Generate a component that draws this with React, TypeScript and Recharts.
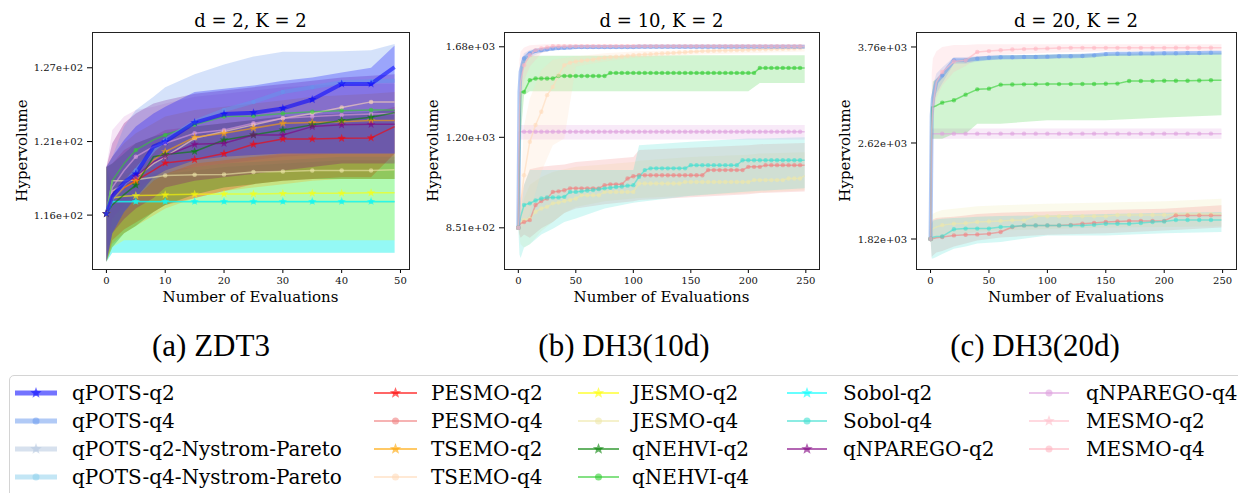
import React from "react";
import { Area, ComposedChart, Line, XAxis, YAxis } from "recharts";

const SERIF = "'DejaVu Serif', 'Liberation Serif', 'Noto Serif', 'Times New Roman', Times, serif";
const CAPTION_SERIF = "'Liberation Serif', 'Times New Roman', Times, 'DejaVu Serif', 'Noto Serif', serif";

// ---------- (a) ZDT3, d = 2 ----------
const zdtX = [0, 1, 3, 5, 8, 10, 15, 20, 25, 30, 35, 40, 45, 49];
const zdtQpotsQ2 = [116.0, 117.24, 118.23, 118.85, 120.84, 121.21, 122.63, 123.27, 123.37, 123.7, 124.37, 125.56, 125.56, 126.85];
const zdtQpotsQ4 = [116.0, 117.12, 118.11, 119.1, 120.59, 121.34, 122.7, 123.57, 124.19, 124.94, 125.31, 125.68, 125.76, 125.81];
const zdtPesmoQ2 = [116.0, 117.24, 117.86, 118.36, 119.1, 119.65, 119.9, 120.34, 121.02, 121.41, 121.41, 121.46, 121.49, 122.33];
const zdtTsemoQ2 = [116.0, 116.99, 117.86, 118.31, 119.85, 120.47, 121.54, 121.83, 122.21, 122.58, 122.63, 122.7, 122.78, 122.78];
const zdtTsemoQ4 = [116.0, 117.61, 118.11, 118.61, 119.6, 120.1, 121.46, 121.96, 122.46, 122.95, 123.32, 123.77, 124.19, 124.19];
const zdtJesmoQ2 = [116.0, 117.12, 117.24, 117.29, 117.32, 117.34, 117.39, 117.41, 117.41, 117.44, 117.46, 117.46, 117.49, 117.49];
const zdtJesmoQ4 = [116.0, 118.36, 118.36, 118.43, 118.61, 118.73, 118.78, 118.81, 118.98, 119.03, 119.1, 119.1, 119.1, 119.15];
const zdtNehviQ2 = [116.0, 116.62, 117.36, 118.04, 120.1, 120.27, 120.49, 121.34, 121.71, 122.08, 122.46, 122.78, 123.03, 123.37];
const zdtNehviQ4 = [116.0, 118.36, 119.6, 120.59, 121.34, 121.71, 122.46, 123.08, 123.13, 123.32, 123.45, 123.52, 123.57, 123.57];
const zdtSobolQ2 = [116.0, 116.87, 116.87, 116.87, 116.87, 116.87, 116.87, 116.87, 116.87, 116.87, 116.87, 116.87, 116.87, 116.87];
const zdtSobolQ4 = [116.0, 116.85, 116.85, 116.85, 116.85, 116.85, 116.85, 116.85, 116.85, 116.85, 116.85, 116.85, 116.85, 116.85];
const zdtNparegoQ2 = [116.0, 117.36, 118.11, 118.66, 119.72, 120.15, 121.02, 121.09, 121.71, 121.71, 122.33, 122.46, 122.5, 122.5];
const zdtNparegoQ4 = [116.0, 117.86, 119.1, 120.1, 120.84, 121.09, 121.83, 122.08, 122.58, 122.95, 123.08, 123.2, 123.27, 123.32];

const zdtQpotsQ2Hi = [119.35, 120.1, 121.34, 122.33, 123.32, 123.82, 124.94, 125.19, 125.43, 125.81, 126.06, 126.43, 126.8, 128.54];
const zdtQpotsQ2Lo = [112.65, 114.63, 116.12, 117.12, 118.61, 119.1, 119.85, 120.1, 120.22, 120.34, 120.34, 120.34, 120.34, 120.34];
const zdtQpotsQ4Hi = [119.35, 120.1, 122.33, 123.57, 124.57, 125.31, 126.3, 127.05, 127.67, 128.04, 128.04, 128.09, 128.17, 128.66];
const zdtQpotsQ4Lo = [112.65, 114.63, 116.12, 117.12, 118.36, 118.85, 119.6, 119.85, 120.1, 120.34, 120.34, 120.34, 120.34, 120.34];
const zdtPesmoQ2Hi = [119.35, 119.6, 120.59, 121.09, 121.59, 122.08, 122.33, 122.58, 122.83, 123.08, 123.2, 123.32, 123.32, 123.82];
const zdtPesmoQ2Lo = [112.65, 114.14, 114.88, 115.38, 116.12, 116.62, 117.12, 117.61, 118.11, 118.36, 118.48, 118.61, 118.61, 120.34];
const zdtNparegoQ2Hi = [119.35, 121.09, 122.58, 123.32, 124.07, 124.32, 124.81, 125.06, 125.31, 125.56, 125.81, 126.06, 126.18, 126.3];
const zdtNparegoQ2Lo = [112.65, 114.63, 115.63, 116.37, 117.12, 117.86, 118.36, 118.61, 118.85, 119.1, 119.35, 119.6, 119.6, 119.6];
const zdtNparegoQ4Hi = [119.35, 122.08, 123.08, 123.57, 123.82, 124.07, 124.57, 124.81, 125.06, 125.31, 125.43, 125.56, 125.56, 125.56];
const zdtNparegoQ4Lo = [112.65, 115.63, 116.62, 117.61, 118.61, 118.85, 119.35, 119.6, 119.85, 120.1, 120.22, 120.34, 120.34, 120.34];
const zdtNehviQ2Hi = [119.35, 119.6, 120.34, 121.09, 121.59, 121.83, 122.33, 122.58, 122.83, 123.08, 123.2, 123.32, 123.45, 123.57];
const zdtNehviQ2Lo = [112.65, 113.64, 114.63, 115.13, 116.12, 116.62, 117.36, 117.86, 118.11, 118.36, 118.48, 118.48, 118.48, 118.48];
const zdtTsemoQ2Hi = [119.35, 120.1, 121.09, 121.83, 122.58, 123.08, 123.57, 123.82, 124.07, 124.32, 124.57, 124.69, 124.81, 124.94];
const zdtTsemoQ2Lo = [112.65, 113.89, 114.63, 115.13, 115.88, 116.37, 117.12, 117.61, 117.86, 118.11, 118.36, 118.48, 118.48, 118.48];
const zdtJesmoQ2Hi = [119.35, 118.61, 118.85, 119.1, 119.35, 119.6, 119.85, 119.97, 120.1, 120.22, 120.29, 120.34, 120.34, 120.34];
const zdtJesmoQ2Lo = [112.65, 113.64, 114.14, 114.14, 114.14, 114.14, 114.14, 114.14, 114.14, 114.14, 114.14, 114.14, 114.14, 114.14];
const zdtSobolQ2Hi = [119.35, 117.86, 118.36, 118.61, 118.85, 119.1, 119.35, 119.6, 119.72, 119.85, 119.97, 120.1, 120.1, 120.1];
const zdtSobolQ2Lo = [112.65, 113.27, 113.27, 113.27, 113.27, 113.27, 113.27, 113.27, 113.27, 113.27, 113.27, 113.27, 113.27, 113.27];
const zdtSobolQ4Hi = [119.35, 117.61, 118.11, 118.36, 118.61, 118.85, 119.1, 119.35, 119.48, 119.6, 119.72, 119.85, 119.85, 119.85];
const zdtSobolQ4Lo = [112.65, 113.27, 113.27, 113.27, 113.27, 113.27, 113.27, 113.27, 113.27, 113.27, 113.27, 113.27, 113.27, 113.27];

// ---------- (b) DH3, d = 10 ----------
const dh10X = [0, 1, 2, 5, 10, 15, 20, 25, 30, 35, 40, 45, 50, 55, 60, 65, 70, 75, 80, 85, 90, 95, 100, 105, 110, 115, 120, 125, 130, 135, 140, 145, 150, 155, 160, 165, 170, 175, 180, 185, 190, 195, 200, 205, 210, 215, 220, 225, 230, 235, 240, 245, 249];
const dh10QpotsQ4 = [851, 1418, 1529, 1608, 1638, 1655, 1659, 1664, 1669, 1672, 1674, 1676, 1678, 1678, 1678, 1678, 1678, 1678, 1678, 1678, 1678, 1678, 1678, 1680, 1680, 1680, 1680, 1680, 1680, 1680, 1680, 1680, 1680, 1680, 1680, 1680, 1680, 1680, 1680, 1680, 1680, 1680, 1680, 1680, 1680, 1680, 1680, 1680, 1680, 1680, 1680, 1680, 1680];
const dh10MesmoQ4 = [851, 1299, 1473, 1568, 1628, 1659, 1669, 1676, 1683, 1683, 1683, 1683, 1683, 1683, 1683, 1683, 1683, 1683, 1683, 1683, 1683, 1683, 1683, 1683, 1683, 1683, 1683, 1683, 1683, 1683, 1683, 1683, 1683, 1683, 1683, 1683, 1683, 1683, 1683, 1683, 1683, 1683, 1683, 1683, 1683, 1683, 1683, 1683, 1683, 1683, 1683, 1683, 1683];
const dh10TsemoQ4 = [851, 881, 927, 1037, 1176, 1252, 1316, 1401, 1445, 1510, 1568, 1582, 1590, 1594, 1598, 1602, 1608, 1612, 1616, 1618, 1620, 1624, 1628, 1630, 1632, 1634, 1636, 1638, 1640, 1642, 1644, 1646, 1649, 1651, 1653, 1654, 1655, 1656, 1657, 1658, 1659, 1660, 1661, 1663, 1664, 1665, 1666, 1667, 1668, 1669, 1670, 1672, 1673];
const dh10NehviQ4 = [851, 1104, 1418, 1418, 1482, 1491, 1491, 1491, 1491, 1505, 1505, 1505, 1505, 1505, 1505, 1505, 1505, 1505, 1523, 1523, 1523, 1523, 1523, 1523, 1523, 1523, 1523, 1523, 1523, 1523, 1523, 1523, 1523, 1523, 1523, 1523, 1523, 1523, 1523, 1523, 1523, 1523, 1523, 1523, 1552, 1552, 1552, 1552, 1552, 1552, 1552, 1552, 1552];
const dh10NparegoQ4 = [851, 1221, 1221, 1221, 1221, 1221, 1221, 1221, 1221, 1221, 1221, 1221, 1221, 1221, 1221, 1221, 1221, 1221, 1221, 1221, 1221, 1221, 1221, 1221, 1221, 1221, 1221, 1221, 1221, 1221, 1221, 1221, 1221, 1221, 1221, 1221, 1221, 1221, 1221, 1221, 1221, 1221, 1221, 1221, 1221, 1221, 1221, 1221, 1221, 1221, 1221, 1221, 1221];
const dh10SobolQ4 = [851, 870, 887, 927, 933, 943, 950, 954, 954, 954, 956, 974, 974, 976, 979, 981, 984, 987, 989, 992, 994, 997, 999, 1031, 1057, 1064, 1064, 1064, 1064, 1064, 1064, 1064, 1077, 1077, 1077, 1077, 1077, 1077, 1077, 1077, 1077, 1097, 1097, 1097, 1097, 1097, 1097, 1097, 1097, 1097, 1097, 1097, 1097];
const dh10PesmoQ4 = [851, 860, 865, 870, 876, 927, 941, 950, 974, 976, 980, 987, 987, 987, 987, 987, 987, 999, 1002, 1002, 1002, 1024, 1033, 1037, 1037, 1037, 1037, 1037, 1037, 1037, 1037, 1037, 1037, 1037, 1037, 1057, 1057, 1057, 1057, 1057, 1057, 1057, 1070, 1070, 1070, 1077, 1077, 1077, 1077, 1077, 1077, 1077, 1077];
const dh10JesmoQ4 = [851, 865, 868, 876, 881, 904, 915, 921, 933, 936, 941, 945, 950, 962, 962, 962, 962, 974, 974, 974, 974, 974, 974, 1005, 1005, 1005, 1005, 1005, 1005, 1005, 1005, 1011, 1011, 1011, 1011, 1011, 1011, 1011, 1011, 1011, 1011, 1011, 1011, 1018, 1018, 1018, 1018, 1018, 1018, 1024, 1024, 1024, 1035];

const dh10BandX = [0, 1, 2, 5, 10, 20, 30, 40, 50, 75, 100, 105, 150, 200, 210, 249];
const dh10QpotsQ4Hi = [851, 1480, 1580, 1640, 1660, 1672, 1680, 1684, 1686, 1688, 1690, 1690, 1690, 1690, 1690, 1690];
const dh10QpotsQ4Lo = [851, 1350, 1470, 1570, 1615, 1645, 1660, 1664, 1668, 1670, 1672, 1672, 1672, 1672, 1672, 1672];
const dh10MesmoQ4Hi = [851, 1600, 1650, 1675, 1690, 1695, 1698, 1698, 1698, 1698, 1698, 1698, 1698, 1698, 1698, 1698];
const dh10MesmoQ4Lo = [851, 1100, 1350, 1480, 1560, 1640, 1660, 1668, 1670, 1672, 1672, 1672, 1672, 1672, 1672, 1672];
const dh10TsemoQ4Hi = [851, 900, 1000, 1250, 1383, 1540, 1600, 1610, 1620, 1640, 1650, 1652, 1660, 1668, 1670, 1678];
const dh10TsemoQ4Lo = [851, 840, 850, 860, 900, 1050, 1160, 1190, 1560, 1590, 1610, 1612, 1630, 1640, 1642, 1650];
const dh10NehviQ4Hi = [851, 1300, 1560, 1620, 1625, 1625, 1625, 1625, 1625, 1625, 1625, 1625, 1628, 1628, 1628, 1628];
const dh10NehviQ4Lo = [851, 900, 1200, 1400, 1421, 1421, 1421, 1421, 1421, 1421, 1421, 1421, 1421, 1421, 1466, 1466];
const dh10NparegoQ4Hi = [851, 1252, 1252, 1252, 1252, 1252, 1252, 1252, 1252, 1252, 1252, 1252, 1252, 1252, 1252, 1252];
const dh10NparegoQ4Lo = [851, 1186, 1186, 1186, 1186, 1186, 1186, 1186, 1186, 1186, 1186, 1186, 1186, 1186, 1186, 1186];
const dh10SobolQ4Hi = [851, 870, 900, 1000, 1057, 1057, 1057, 1057, 1057, 1057, 1057, 1161, 1176, 1190, 1190, 1196];
const dh10SobolQ4Lo = [851, 770, 760, 790, 800, 830, 848, 870, 881, 915, 935, 938, 960, 975, 978, 987];
const dh10PesmoQ4Hi = [851, 900, 950, 1000, 1060, 1070, 1075, 1080, 1090, 1100, 1110, 1140, 1150, 1160, 1165, 1170];
const dh10PesmoQ4Lo = [851, 830, 820, 830, 820, 850, 870, 900, 915, 930, 940, 945, 955, 965, 970, 975];
const dh10JesmoQ4Hi = [851, 880, 900, 950, 1000, 1030, 1050, 1060, 1070, 1080, 1090, 1095, 1110, 1120, 1125, 1130];
const dh10JesmoQ4Lo = [851, 820, 800, 790, 800, 840, 870, 900, 920, 940, 950, 952, 960, 970, 972, 980];

// ---------- (c) DH3, d = 20 ----------
const dh20X = [0, 1, 2, 5, 10, 20, 30, 40, 50, 60, 70, 80, 90, 100, 110, 120, 130, 140, 150, 160, 170, 180, 190, 200, 210, 220, 230, 240, 249];
const dh20QpotsQ4 = [1820, 2904, 3100, 3294, 3378, 3575, 3575, 3598, 3610, 3616, 3616, 3620, 3620, 3625, 3630, 3630, 3634, 3643, 3660, 3666, 3666, 3670, 3670, 3672, 3672, 3675, 3675, 3678, 3680];
const dh20MesmoQ4 = [1820, 2760, 3000, 3294, 3421, 3560, 3575, 3690, 3702, 3713, 3724, 3730, 3736, 3740, 3745, 3748, 3748, 3748, 3748, 3748, 3748, 3748, 3748, 3748, 3750, 3750, 3750, 3750, 3750];
const dh20NehviQ4 = [1820, 2997, 2997, 3012, 3047, 3074, 3140, 3204, 3212, 3261, 3263, 3265, 3266, 3268, 3268, 3268, 3270, 3270, 3272, 3274, 3307, 3307, 3307, 3309, 3309, 3310, 3312, 3315, 3315];
const dh20NparegoQ4 = [1820, 2710, 2710, 2710, 2710, 2710, 2710, 2710, 2710, 2710, 2710, 2710, 2710, 2710, 2710, 2710, 2710, 2710, 2710, 2710, 2710, 2710, 2710, 2710, 2710, 2710, 2710, 2710, 2710];
const dh20JesmoQ4 = [1820, 1869, 1893, 1904, 1918, 1928, 1932, 1941, 1945, 1949, 1953, 1953, 1983, 1983, 1983, 1983, 1983, 1983, 1983, 1993, 1993, 1993, 1993, 1993, 1998, 1998, 1998, 1998, 2003];
const dh20SobolQ4 = [1820, 1826, 1832, 1838, 1838, 1888, 1893, 1893, 1893, 1904, 1908, 1916, 1916, 1916, 1916, 1916, 1916, 1920, 1928, 1928, 1928, 1934, 1941, 1945, 1956, 1956, 1956, 1956, 1956];
const dh20PesmoQ4 = [1820, 1822, 1824, 1829, 1834, 1845, 1850, 1852, 1857, 1869, 1904, 1916, 1916, 1916, 1916, 1920, 1928, 1934, 1941, 1945, 1949, 1949, 1949, 1949, 1990, 1990, 1990, 1990, 1990];

const dh20BandX = [0, 1, 2, 5, 10, 20, 30, 40, 60, 100, 150, 200, 249];
const dh20QpotsQ4Hi = [1820, 3050, 3250, 3400, 3480, 3620, 3620, 3630, 3640, 3650, 3680, 3690, 3700];
const dh20QpotsQ4Lo = [1820, 2760, 2950, 3150, 3280, 3530, 3530, 3560, 3590, 3600, 3640, 3650, 3660];
const dh20MesmoQ4Hi = [1820, 3400, 3600, 3700, 3760, 3790, 3790, 3800, 3800, 3800, 3800, 3800, 3800];
const dh20MesmoQ4Lo = [1820, 2600, 2850, 3100, 3250, 3420, 3500, 3600, 3650, 3680, 3700, 3700, 3705];
const dh20NehviQ4Hi = [1820, 3100, 3300, 3336, 3400, 3560, 3600, 3620, 3640, 3650, 3660, 3670, 3680];
const dh20NehviQ4Lo = [1820, 2659, 2659, 2659, 2659, 2710, 2710, 2814, 2814, 2850, 2850, 2880, 2904];
const dh20NparegoQ4Hi = [1820, 2762, 2762, 2762, 2762, 2762, 2762, 2762, 2762, 2762, 2762, 2762, 2762];
const dh20NparegoQ4Lo = [1820, 2659, 2659, 2659, 2659, 2659, 2659, 2659, 2659, 2659, 2659, 2659, 2659];
const dh20SobolQ4Hi = [1820, 1930, 1950, 1960, 1965, 1970, 1975, 1980, 1985, 1990, 2000, 2010, 2015];
const dh20SobolQ4Lo = [1820, 1690, 1690, 1700, 1720, 1754, 1770, 1790, 1800, 1845, 1845, 1860, 1869];
const dh20PesmoQ4Hi = [1820, 1940, 1960, 1970, 1975, 1980, 1990, 2000, 2010, 2020, 2030, 2040, 2067];
const dh20PesmoQ4Lo = [1820, 1700, 1710, 1730, 1740, 1770, 1790, 1810, 1830, 1850, 1860, 1880, 1900];
const dh20JesmoQ4Hi = [1820, 1990, 2003, 2016, 2030, 2041, 2050, 2060, 2067, 2080, 2090, 2100, 2120];
const dh20JesmoQ4Lo = [1820, 1800, 1810, 1830, 1840, 1850, 1860, 1870, 1880, 1890, 1900, 1905, 1910];

// ---------- axes ----------
const zdtXTicks = [0, 10, 20, 30, 40, 50];
const dhXTicks = [0, 50, 100, 150, 200, 250];
const zdtYTicks = [115.9, 121.22, 126.8];
const dh10YTicks = [851, 1195.7, 1680];
const dh20YTicks = [1820, 2616, 3760];

// legend columns, in matplotlib's column-major order
const legendColumns = [
  ["qPOTS-q2", "qPOTS-q4", "qPOTS-q2-Nystrom-Pareto", "qPOTS-q4-Nystrom-Pareto"],
  ["PESMO-q2", "PESMO-q4", "TSEMO-q2", "TSEMO-q4"],
  ["JESMO-q2", "JESMO-q4", "qNEHVI-q2", "qNEHVI-q4"],
  ["Sobol-q2", "Sobol-q4", "qNPAREGO-q2"],
  ["qNPAREGO-q4", "MESMO-q2", "MESMO-q4"],
];

type Style = { color: string; marker: "star" | "dot"; width: number; alpha: number };
const STYLE: Record<string, Style> = {
  "qPOTS-q2": { color: "#0000ff", marker: "star", width: 4, alpha: 0.55 },
  "qPOTS-q4": { color: "#6495ed", marker: "dot", width: 4, alpha: 0.5 },
  "qPOTS-q2-Nystrom-Pareto": { color: "#b0c4de", marker: "star", width: 4, alpha: 0.5 },
  "qPOTS-q4-Nystrom-Pareto": { color: "#87ceeb", marker: "dot", width: 4, alpha: 0.5 },
  "PESMO-q2": { color: "#ff0000", marker: "star", width: 1.5, alpha: 0.6 },
  "PESMO-q4": { color: "#f08080", marker: "dot", width: 1.5, alpha: 0.6 },
  "TSEMO-q2": { color: "#ffa500", marker: "star", width: 1.5, alpha: 0.6 },
  "TSEMO-q4": { color: "#ffdab9", marker: "dot", width: 1.5, alpha: 0.6 },
  "JESMO-q2": { color: "#ffff00", marker: "star", width: 1.5, alpha: 0.6 },
  "JESMO-q4": { color: "#eee8aa", marker: "dot", width: 1.5, alpha: 0.6 },
  "qNEHVI-q2": { color: "#008000", marker: "star", width: 1.5, alpha: 0.6 },
  "qNEHVI-q4": { color: "#32cd32", marker: "dot", width: 1.5, alpha: 0.6 },
  "Sobol-q2": { color: "#00ffff", marker: "star", width: 1.5, alpha: 0.6 },
  "Sobol-q4": { color: "#40e0d0", marker: "dot", width: 1.5, alpha: 0.6 },
  "qNPAREGO-q2": { color: "#800080", marker: "star", width: 1.5, alpha: 0.6 },
  "qNPAREGO-q4": { color: "#dda0dd", marker: "dot", width: 1.5, alpha: 0.6 },
  "MESMO-q2": { color: "#ffc0cb", marker: "star", width: 1.5, alpha: 0.6 },
  "MESMO-q4": { color: "#ffb6c1", marker: "dot", width: 1.5, alpha: 0.6 },
};

type Series = { name: string; mean: number[]; lo?: number[]; hi?: number[] };

const zdtSeries: Series[] = [
  { name: "Sobol-q4", mean: zdtSobolQ4, lo: zdtSobolQ4Lo, hi: zdtSobolQ4Hi },
  { name: "Sobol-q2", mean: zdtSobolQ2, lo: zdtSobolQ2Lo, hi: zdtSobolQ2Hi },
  { name: "JESMO-q2", mean: zdtJesmoQ2, lo: zdtJesmoQ2Lo, hi: zdtJesmoQ2Hi },
  { name: "JESMO-q4", mean: zdtJesmoQ4 },
  { name: "TSEMO-q4", mean: zdtTsemoQ4 },
  { name: "qNPAREGO-q4", mean: zdtNparegoQ4, lo: zdtNparegoQ4Lo, hi: zdtNparegoQ4Hi },
  { name: "PESMO-q2", mean: zdtPesmoQ2, lo: zdtPesmoQ2Lo, hi: zdtPesmoQ2Hi },
  { name: "TSEMO-q2", mean: zdtTsemoQ2, lo: zdtTsemoQ2Lo, hi: zdtTsemoQ2Hi },
  { name: "qNEHVI-q2", mean: zdtNehviQ2, lo: zdtNehviQ2Lo, hi: zdtNehviQ2Hi },
  { name: "qNEHVI-q4", mean: zdtNehviQ4 },
  { name: "qNPAREGO-q2", mean: zdtNparegoQ2, lo: zdtNparegoQ2Lo, hi: zdtNparegoQ2Hi },
  { name: "qPOTS-q4", mean: zdtQpotsQ4, lo: zdtQpotsQ4Lo, hi: zdtQpotsQ4Hi },
  { name: "qPOTS-q2", mean: zdtQpotsQ2, lo: zdtQpotsQ2Lo, hi: zdtQpotsQ2Hi },
];

const dh10Series: Series[] = [
  { name: "JESMO-q4", mean: dh10JesmoQ4, lo: dh10JesmoQ4Lo, hi: dh10JesmoQ4Hi },
  { name: "PESMO-q4", mean: dh10PesmoQ4, lo: dh10PesmoQ4Lo, hi: dh10PesmoQ4Hi },
  { name: "Sobol-q4", mean: dh10SobolQ4, lo: dh10SobolQ4Lo, hi: dh10SobolQ4Hi },
  { name: "qNPAREGO-q4", mean: dh10NparegoQ4, lo: dh10NparegoQ4Lo, hi: dh10NparegoQ4Hi },
  { name: "qNEHVI-q4", mean: dh10NehviQ4, lo: dh10NehviQ4Lo, hi: dh10NehviQ4Hi },
  { name: "TSEMO-q4", mean: dh10TsemoQ4, lo: dh10TsemoQ4Lo, hi: dh10TsemoQ4Hi },
  { name: "qPOTS-q4", mean: dh10QpotsQ4, lo: dh10QpotsQ4Lo, hi: dh10QpotsQ4Hi },
  { name: "MESMO-q4", mean: dh10MesmoQ4, lo: dh10MesmoQ4Lo, hi: dh10MesmoQ4Hi },
];

const dh20Series: Series[] = [
  { name: "JESMO-q4", mean: dh20JesmoQ4, lo: dh20JesmoQ4Lo, hi: dh20JesmoQ4Hi },
  { name: "PESMO-q4", mean: dh20PesmoQ4, lo: dh20PesmoQ4Lo, hi: dh20PesmoQ4Hi },
  { name: "Sobol-q4", mean: dh20SobolQ4, lo: dh20SobolQ4Lo, hi: dh20SobolQ4Hi },
  { name: "qNPAREGO-q4", mean: dh20NparegoQ4, lo: dh20NparegoQ4Lo, hi: dh20NparegoQ4Hi },
  { name: "qNEHVI-q4", mean: dh20NehviQ4, lo: dh20NehviQ4Lo, hi: dh20NehviQ4Hi },
  { name: "qPOTS-q4", mean: dh20QpotsQ4, lo: dh20QpotsQ4Lo, hi: dh20QpotsQ4Hi },
  { name: "MESMO-q4", mean: dh20MesmoQ4, lo: dh20MesmoQ4Lo, hi: dh20MesmoQ4Hi },
];

function sci(v: number) {
  const [m, e] = v.toExponential(2).split("e");
  const n = parseInt(e, 10);
  return `${m}e${n < 0 ? "-" : "+"}${String(Math.abs(n)).padStart(2, "0")}`;
}

function starPath(cx: number, cy: number, r: number) {
  let d = "";
  for (let i = 0; i < 10; i++) {
    const rr = i % 2 === 0 ? r : r * 0.42;
    const a = -Math.PI / 2 + (i * Math.PI) / 5;
    d += `${i === 0 ? "M" : "L"}${(cx + rr * Math.cos(a)).toFixed(2)},${(cy + rr * Math.sin(a)).toFixed(2)}`;
  }
  return d + "Z";
}

function Marker({ name, cx, cy, size }: { name: string; cx: number; cy: number; size: number }) {
  const st = STYLE[name];
  if (st.marker === "star")
    return <path d={starPath(cx, cy, size)} fill={st.color} fillOpacity={st.alpha} />;
  return <circle cx={cx} cy={cy} r={size * 0.5} fill={st.color} fillOpacity={st.alpha} />;
}

const markerDot = (name: string, every: number, size: number) => (props: any) => {
  const { cx, cy, payload, index } = props;
  if (cx == null || cy == null || payload.x % every !== 0) return <g key={`m${index}`} />;
  return (
    <g key={`m${index}`}>
      <Marker name={name} cx={cx} cy={cy} size={size} />
    </g>
  );
};

type PanelProps = {
  left: number;
  width: number;
  marginLeft: number;
  marginRight: number;
  xs: number[];
  bandXs: number[];
  series: Series[];
  xDomain: [number, number];
  xTicks: number[];
  yDomain: [number, number];
  yTicks: number[];
  every: number;
  markerSize: number;
  bandOpacity: number;
  title: string;
  ylabelX: number;
  caption: string;
  captionX: number;
};

const H = 310;
const TOP = 32;
const BOTTOM = 11;
const XAXIS_H = 30;
const YAXIS_W = 60;

function Panel(p: PanelProps) {
  const plotLeft = p.left + p.marginLeft + YAXIS_W;
  const plotRight = p.left + p.width - p.marginRight;
  const plotBottom = H - BOTTOM - XAXIS_H;
  const cx = (plotLeft + plotRight) / 2;
  const tickStyle = { fontSize: 10, fill: "#111", fontFamily: SERIF };
  return (
    <>
      <div style={{ position: "absolute", left: p.left, top: 0 }}>
        <ComposedChart
          width={p.width}
          height={H}
          margin={{ top: TOP, right: p.marginRight, bottom: BOTTOM, left: p.marginLeft }}
          style={{ fontFamily: SERIF }}
        >
          <XAxis
            type="number"
            dataKey="x"
            domain={p.xDomain}
            ticks={p.xTicks}
            allowDataOverflow
            interval={0}
            height={XAXIS_H}
            axisLine={false}
            tickLine={{ stroke: "#000" }}
            tickSize={4}
            tickMargin={4}
            tick={tickStyle}
          />
          <YAxis
            type="number"
            scale="log"
            domain={p.yDomain}
            ticks={p.yTicks}
            allowDataOverflow
            interval={0}
            width={YAXIS_W}
            axisLine={false}
            tickLine={{ stroke: "#000" }}
            tickSize={5}
            tickMargin={4}
            tick={tickStyle}
            tickFormatter={sci}
          />
          {p.series
            .filter((s) => s.lo && s.hi)
            .map((s) => (
              <Area
                key={`band-${s.name}`}
                data={p.bandXs.map((x, i) => ({ x, r: [s.lo![i], s.hi![i]] }))}
                dataKey="r"
                type="linear"
                stroke="none"
                fill={STYLE[s.name].color}
                fillOpacity={p.bandOpacity}
                isAnimationActive={false}
                activeDot={false}
              />
            ))}
          {p.series.map((s) => (
            <Line
              key={`line-${s.name}`}
              data={p.xs.map((x, i) => ({ x, y: s.mean[i] }))}
              dataKey="y"
              type="linear"
              stroke={STYLE[s.name].color}
              strokeOpacity={STYLE[s.name].alpha}
              strokeWidth={STYLE[s.name].width}
              strokeLinejoin="round"
              dot={markerDot(s.name, p.every, p.markerSize)}
              activeDot={false}
              isAnimationActive={false}
            />
          ))}
        </ComposedChart>
      </div>
      <div
        style={{
          position: "absolute",
          left: plotLeft,
          top: TOP,
          width: plotRight - plotLeft + 1,
          height: plotBottom - TOP + 1,
          border: "1px solid #222",
          boxSizing: "border-box",
          pointerEvents: "none",
        }}
      />
      <div style={{ ...centered(cx, 21, 18) }}>{p.title}</div>
      <div style={{ ...centered(cx, 297, 15) }}>Number of Evaluations</div>
      <div style={{ ...centered(p.ylabelX, (TOP + plotBottom) / 2, 15), transform: "rotate(-90deg)" }}>
        Hypervolume
      </div>
      <div style={{ ...centered(p.captionX, 346, 31), fontFamily: CAPTION_SERIF }}>{p.caption}</div>
    </>
  );
}

function centered(x: number, y: number, size: number): React.CSSProperties {
  return {
    position: "absolute",
    left: x - 150,
    top: y - size * 0.7,
    width: 300,
    height: size * 1.4,
    lineHeight: `${size * 1.4}px`,
    textAlign: "center",
    fontSize: size,
    fontFamily: SERIF,
    color: "#000",
    whiteSpace: "nowrap",
  };
}

const legendCols = [
  { line: 15, end: 57, text: 72 },
  { line: 374, end: 417, text: 431 },
  { line: 578, end: 619, text: 632 },
  { line: 787, end: 827, text: 843 },
  { line: 1029, end: 1069, text: 1086 },
];
const legendRows = [393, 421, 449, 477];

function Legend() {
  return (
    <>
      <div
        style={{
          position: "absolute",
          left: 9,
          top: 375,
          width: 1240,
          height: 130,
          border: "1px solid #d4d4d4",
          borderRadius: 5,
          boxSizing: "border-box",
        }}
      />
      {legendColumns.map((col, ci) =>
        col.map((name, ri) => {
          const c = legendCols[ci];
          const y = legendRows[ri];
          const st = STYLE[name];
          const w = c.end - c.line;
          return (
            <React.Fragment key={name}>
              <svg style={{ position: "absolute", left: c.line, top: y - 10 }} width={w} height={20}>
                <line
                  x1={0}
                  x2={w}
                  y1={10}
                  y2={10}
                  stroke={st.color}
                  strokeOpacity={st.alpha}
                  strokeWidth={st.width === 4 ? 5 : 2}
                />
                <Marker name={name} cx={w / 2} cy={10} size={st.marker === "star" ? 6 : 7} />
              </svg>
              <div
                style={{
                  position: "absolute",
                  left: c.text,
                  top: y - 13,
                  height: 26,
                  lineHeight: "26px",
                  fontSize: 20,
                  fontFamily: SERIF,
                  color: "#000",
                  whiteSpace: "nowrap",
                }}
              >
                {name}
              </div>
            </React.Fragment>
          );
        })
      )}
    </>
  );
}

export default function App() {
  return (
    <div
      style={{
        position: "absolute",
        left: 0,
        top: 0,
        width: 1238,
        height: 493,
        overflow: "hidden",
        background: "#fff",
      }}
    >
      <Panel
        left={0}
        width={420}
        marginLeft={32}
        marginRight={11}
        xs={zdtX}
        bandXs={zdtX}
        series={zdtSeries}
        xDomain={[-2.45, 51.45]}
        xTicks={zdtXTicks}
        yDomain={[112.15, 129.6]}
        yTicks={zdtYTicks}
        every={5}
        markerSize={4.5}
        bandOpacity={0.27}
        title="d = 2, K = 2"
        ylabelX={22}
        caption="(a) ZDT3"
        captionX={211}
      />
      <Panel
        left={410}
        width={420}
        marginLeft={34}
        marginRight={11}
        xs={dh10X}
        bandXs={dh10BandX}
        series={dh10Series}
        xDomain={[-12.45, 261.45]}
        xTicks={dhXTicks}
        yDomain={[729, 1776]}
        yTicks={dh10YTicks}
        every={5}
        markerSize={4.4}
        bandOpacity={0.22}
        title="d = 10, K = 2"
        ylabelX={433}
        caption="(b) DH3(10d)"
        captionX={624}
      />
      <Panel
        left={820}
        width={418}
        marginLeft={36}
        marginRight={2}
        xs={dh20X}
        bandXs={dh20BandX}
        series={dh20Series}
        xDomain={[-12.45, 261.45]}
        xTicks={dhXTicks}
        yDomain={[1625, 3979]}
        yTicks={dh20YTicks}
        every={10}
        markerSize={4.4}
        bandOpacity={0.22}
        title="d = 20, K = 2"
        ylabelX={845}
        caption="(c) DH3(20d)"
        captionX={1035}
      />
      <Legend />
    </div>
  );
}
